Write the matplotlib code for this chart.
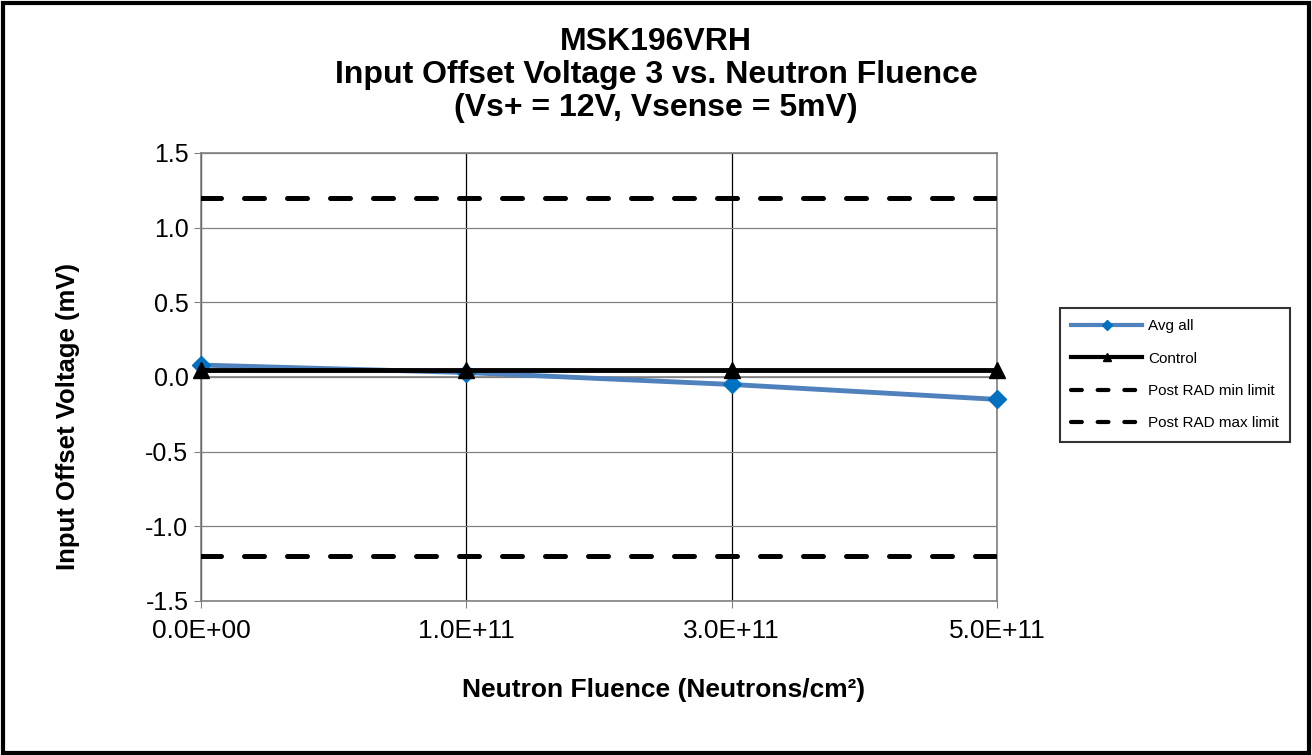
import matplotlib
matplotlib.use("Agg")
import matplotlib.pyplot as plt
from matplotlib.patches import Rectangle
from matplotlib.lines import Line2D

plt.rcParams['font.family'] = ['Liberation Sans', 'DejaVu Sans']

categories = ["0.0E+00", "1.0E+11", "3.0E+11", "5.0E+11"]
avg_all = [0.08, 0.03, -0.05, -0.15]
control = [0.05, 0.05, 0.05, 0.05]
min_limit = [-1.2, -1.2, -1.2, -1.2]
max_limit = [1.2, 1.2, 1.2, 1.2]
yticks = [-1.5, -1.0, -0.5, 0.0, 0.5, 1.0, 1.5]
title_lines = ["MSK196VRH", "Input Offset Voltage 3 vs. Neutron Fluence", "(Vs+ = 12V, Vsense = 5mV)"]

W, H = 1312, 755
fig = plt.figure(figsize=(W/100, H/100), dpi=100)
ax = fig.add_axes([201/W, 1-601/H, (997-201)/W, (601-153)/H])

x = list(range(len(categories)))
ax.plot(x, min_limit, color='black', lw=3.6, dashes=(4.0, 4.6), dash_capstyle='round',
        label='Post RAD min limit', zorder=3)
ax.plot(x, max_limit, color='black', lw=3.6, dashes=(4.0, 4.6), dash_capstyle='round',
        label='Post RAD max limit', zorder=3)
ax.plot(x, avg_all, color='#4F81BD', lw=3.5, marker='D', markersize=9,
        markerfacecolor='#0070C0', markeredgecolor='#0070C0', label='Avg all', zorder=4, clip_on=False)
ax.plot(x, control, color='black', lw=3.5, marker='^', markersize=12,
        label='Control', zorder=5, clip_on=False)

ax.set_xlim(0, 3)
ax.set_ylim(-1.5, 1.5)
ax.set_yticks(yticks)
ax.set_yticklabels([f"{v:.1f}" for v in yticks], fontsize=18)
ax.set_xticks(x)
ax.set_xticklabels(categories, fontsize=19)
ax.grid(True, axis='y', color='#808080', lw=0.9)
ax.grid(True, axis='x', color='black', lw=0.9)
ax.set_axisbelow(True)
for s in ['left', 'bottom', 'top', 'right']:
    ax.spines[s].set_color('#808080')
    ax.spines[s].set_linewidth(1.2)
ax.tick_params(axis='y', direction='out', length=5, color='#808080', pad=4)
ax.tick_params(axis='x', direction='out', length=5, color='#808080', pad=8)
ax.axhline(0, color='#808080', lw=1.2, zorder=2)

fig.text(664/W, 1-690/H, "Neutron Fluence (Neutrons/cm²)", ha='center', va='center',
         fontsize=19, fontweight='bold')
fig.text(68/W, 1-416/H, "Input Offset Voltage (mV)", ha='center', va='center',
         rotation=90, fontsize=18.5, fontweight='bold')

for line, yc in zip(title_lines, [42, 75, 108]):
    fig.text(656/W, 1-yc/H, line, ha='center', va='center', fontsize=23, fontweight='bold')

handles = [
    Line2D([], [], color='#4F81BD', lw=3, marker='D', markersize=5, markerfacecolor='#0070C0', markeredgecolor='#0070C0'),
    Line2D([], [], color='black', lw=3, marker='^', markersize=6),
    Line2D([], [], color='black', lw=3, dashes=(2.6, 3.8), dash_capstyle='round'),
    Line2D([], [], color='black', lw=3, dashes=(2.6, 3.8), dash_capstyle='round'),
]
labels = ['Avg all', 'Control', 'Post RAD min limit', 'Post RAD max limit']
leg = fig.legend(handles, labels, loc='upper left', bbox_to_anchor=(1060/W, 1-308/H),
                 fontsize=11, frameon=True, fancybox=False, edgecolor='black',
                 handlelength=4.6, labelspacing=1.2, borderpad=0.75, handletextpad=0.4,
                 borderaxespad=0)
leg.get_frame().set_linewidth(1.5)

fig.patches.append(Rectangle((0.002, 0.002), 0.996, 0.994, transform=fig.transFigure,
                             fill=False, edgecolor='black', lw=3))

fig.savefig("out.png", dpi=100)
